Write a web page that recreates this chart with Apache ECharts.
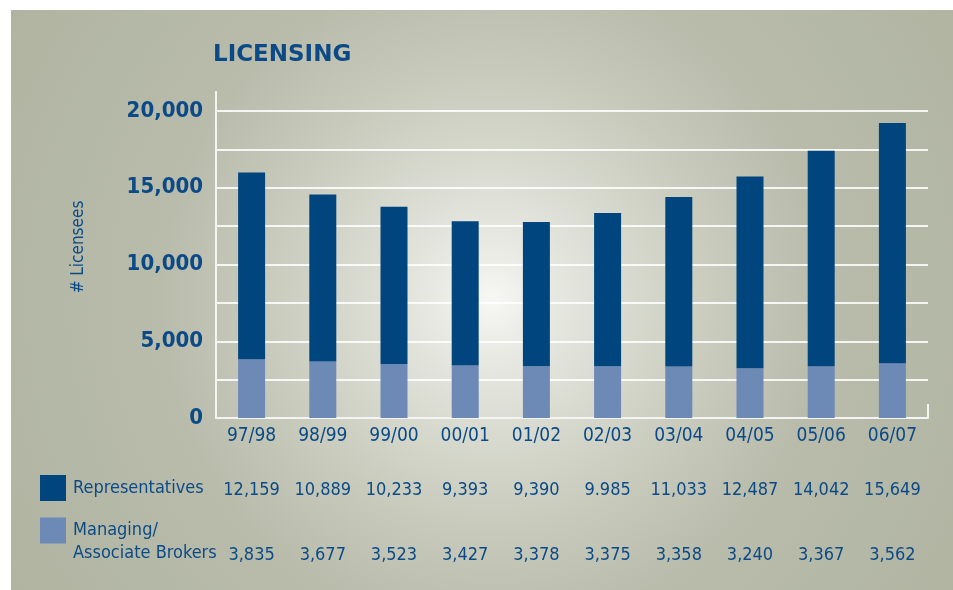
<html lang="en">
    <head>
        <meta charset="UTF-8">
        <title>Licensing</title>
        <script src="https://cdn.jsdelivr.net/npm/echarts@6/dist/echarts.min.js"></script>
        <style>
            body { margin: 0; background: #ffffff; }
        </style>
    </head>
    <body>
        <div id="chart_1" style="width:953px; height:590px;"></div>
        <script>
            // data
            var categories = ['97/98', '98/99', '99/00', '00/01', '01/02', '02/03', '03/04', '04/05', '05/06', '06/07'];
            var representatives = [12159, 10889, 10233, 9393, 9390, 9985, 11033, 12487, 14042, 15649];
            var brokers = [3835, 3677, 3523, 3427, 3378, 3375, 3358, 3240, 3367, 3562];
            // table text as printed (02/03 uses a point in the original)
            var repText = ['12,159', '10,889', '10,233', '9,393', '9,390', '9.985', '11,033', '12,487', '14,042', '15,649'];
            var brokerText = ['3,835', '3,677', '3,523', '3,427', '3,378', '3,375', '3,358', '3,240', '3,367', '3,562'];
            var yTicks = [0, 5000, 10000, 15000, 20000];

            var repName = 'Representatives';
            var brokerName = 'Managing/\nAssociate Brokers';

            var blue = '#0b4a86';
            var narrow = "'DejaVu Sans Condensed', 'Liberation Sans Narrow', 'Liberation Sans', sans-serif";

            let myChart = echarts.init(document.getElementById("chart_1"));

            option = {
                animation: false,
                backgroundColor: '#ffffff',
                title: {
                    text: 'LICENSING',
                    left: 213,
                    top: 44,
                    padding: 0,
                    textStyle: {
                        color: blue,
                        fontFamily: "'DejaVu Sans', sans-serif",
                        fontWeight: 'bold',
                        fontSize: 23
                    }
                },
                graphic: [
                    {
                        type: 'rect',
                        z: -10,
                        shape: { x: 11, y: 10, width: 942, height: 580 },
                        style: {
                            fill: new echarts.graphic.RadialGradient(0.51, 0.5, 0.95, [
                                { offset: 0, color: '#f7f7f4' },
                                { offset: 0.12, color: '#e6e7e0' },
                                { offset: 0.35, color: '#cdd0c2' },
                                { offset: 0.6, color: '#b9bcab' },
                                { offset: 1, color: '#b0b4a1' }
                            ])
                        }
                    },
                    {
                        type: 'line',
                        shape: { x1: 216, y1: 91, x2: 216, y2: 112 },
                        style: { stroke: '#f4f4f2', lineWidth: 2 }
                    },
                    {
                        type: 'line',
                        shape: { x1: 928, y1: 404, x2: 928, y2: 418 },
                        style: { stroke: '#f4f4f2', lineWidth: 2 }
                    },
                    {
                        type: 'text',
                        x: 79,
                        y: 247,
                        rotation: Math.PI / 2,
                        style: {
                            text: '# Licensees',
                            fill: blue,
                            font: "17px " + narrow,
                            align: 'center',
                            verticalAlign: 'middle'
                        }
                    }
                ],
                legend: [
                    {
                        data: [repName],
                        left: 40,
                        top: 475,
                        padding: 0,
                        orient: 'vertical',
                        icon: 'rect',
                        itemWidth: 26,
                        itemHeight: 26,
                        selectedMode: false,
                        textStyle: {
                            color: blue,
                            fontFamily: narrow,
                            fontSize: 18,
                            padding: [0, 0, 0, 2]
                        }
                    },
                    {
                        data: [brokerName],
                        left: 40,
                        top: 496,
                        padding: 0,
                        orient: 'vertical',
                        icon: 'rect',
                        itemWidth: 26,
                        itemHeight: 26,
                        selectedMode: false,
                        // blank first line so "Managing/" sits level with the swatch
                        formatter: function (name) { return '\n' + name; },
                        textStyle: {
                            color: blue,
                            fontFamily: narrow,
                            fontSize: 18,
                            lineHeight: 23,
                            padding: [0, 0, 0, 2]
                        }
                    }
                ],
                grid: {
                    left: 216,
                    right: 25,
                    top: 111,
                    bottom: 172
                },
                xAxis: [
                    {
                        type: 'category',
                        data: categories,
                        axisLine: { lineStyle: { color: '#f4f4f2', width: 2 } },
                        axisTick: { show: false },
                        axisLabel: {
                            color: blue,
                            fontFamily: narrow,
                            fontSize: 19,
                            margin: 9,
                            interval: 0
                        }
                    },
                    {
                        type: 'category',
                        data: categories,
                        position: 'bottom',
                        offset: 63,
                        axisLine: { show: false },
                        axisTick: { show: false },
                        axisLabel: {
                            color: blue,
                            fontFamily: narrow,
                            fontSize: 18,
                            margin: 0,
                            interval: 0,
                            hideOverlap: false,
                            formatter: function (v, i) { return repText[i]; }
                        }
                    },
                    {
                        type: 'category',
                        data: categories,
                        position: 'bottom',
                        offset: 128,
                        axisLine: { show: false },
                        axisTick: { show: false },
                        axisLabel: {
                            color: blue,
                            fontFamily: narrow,
                            fontSize: 18,
                            margin: 0,
                            interval: 0,
                            hideOverlap: false,
                            formatter: function (v, i) { return brokerText[i]; }
                        }
                    }
                ],
                yAxis: {
                    type: 'value',
                    min: 0,
                    max: 20000,
                    interval: 2500,
                    axisLine: { show: true, lineStyle: { color: '#f4f4f2', width: 2 } },
                    axisTick: { show: false },
                    splitLine: {
                        lineStyle: { color: 'rgba(255,255,255,0.85)', width: 2 }
                    },
                    axisLabel: {
                        color: blue,
                        fontFamily: narrow,
                        fontWeight: 'bold',
                        fontSize: 22,
                        margin: 13,
                        formatter: function (v) {
                            return yTicks.indexOf(v) >= 0 ? v.toLocaleString('en-US') : '';
                        }
                    }
                },
                series: [
                    {
                        name: brokerName,
                        type: 'bar',
                        stack: 'total',
                        barWidth: 27,
                        itemStyle: { color: '#6d89b6' },
                        data: brokers
                    },
                    {
                        name: repName,
                        type: 'bar',
                        stack: 'total',
                        barWidth: 27,
                        itemStyle: { color: '#00457e' },
                        data: representatives
                    }
                ]
            };

            myChart.setOption(option);
        </script>
    </body>
</html>
